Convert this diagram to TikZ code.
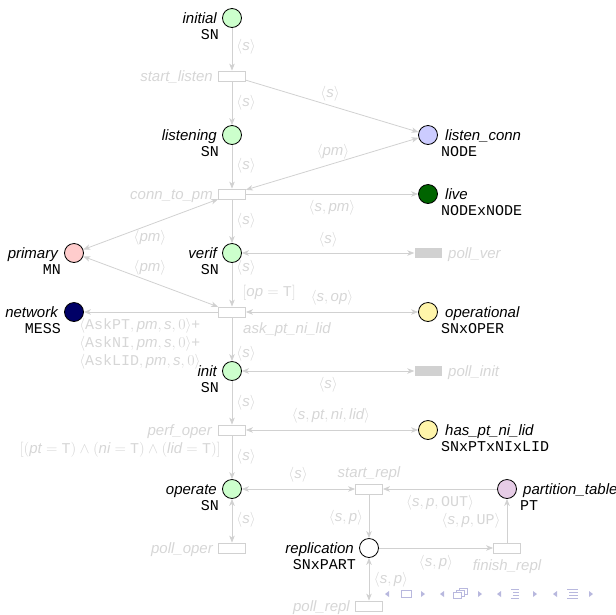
\documentclass[tikz,border=0pt]{standalone}
\usepackage{fix-cm}
\usepackage{fontspec}
\setmainfont{Liberation Sans}
\setmonofont{Liberation Mono}
\usetikzlibrary{arrows.meta}

\definecolor{arcgrey}{gray}{0.82}
\definecolor{labgrey}{gray}{0.84}
\definecolor{pgreen}{RGB}{204,255,204}
\definecolor{ppink}{RGB}{255,204,204}
\definecolor{pblue}{RGB}{204,204,255}
\definecolor{pdkgreen}{RGB}{0,100,0}
\definecolor{pnavy}{RGB}{0,0,102}
\definecolor{pyellow}{RGB}{255,245,170}
\definecolor{plilac}{RGB}{230,204,230}
\definecolor{navcol}{RGB}{184,184,222}

\newcommand{\vv}[1]{\textit{#1}}
\newcommand{\tup}[1]{$\langle #1\rangle$}

\begin{document}
\begin{tikzpicture}[x=1pt,y=-1pt,
  every node/.style={font=\fontsize{15}{18}\selectfont},
  place/.style={circle,draw=black,line width=0.8pt,minimum size=19pt,inner sep=0pt},
  trans/.style={rectangle,draw=arcgrey,fill=white,line width=0.8pt,minimum width=27pt,minimum height=10pt,inner sep=0pt},
  polltr/.style={rectangle,fill=arcgrey,minimum width=27pt,minimum height=10pt,inner sep=0pt},
  pname/.style={inner sep=0pt,font=\fontsize{15}{18}\selectfont\itshape},
  ptype/.style={inner sep=0pt,font=\fontsize{15}{18}\selectfont\ttfamily},
  tname/.style={inner sep=0pt,text=labgrey,font=\fontsize{15}{18}\selectfont\itshape},
  lab/.style={inner sep=0pt,text=labgrey,midway},
  arc/.style={draw=arcgrey,line width=0.8pt,-{Stealth[length=7pt,width=5.5pt,inset=2pt]}},
  biarc/.style={draw=arcgrey,line width=0.8pt,{Stealth[length=7pt,width=5.5pt,inset=2pt]}-{Stealth[length=7pt,width=5.5pt,inset=2pt]}},
  navtri/.style={fill=navcol,draw=none},
  navline/.style={draw=navcol,line width=0.7pt}
]
\useasboundingbox (0,0) rectangle (616,614);

% ---- places ----
\node[place,fill=pgreen] (initial) at (232,18) {};
\node[pname,anchor=base east] (initialN) at (217,23.5) {initial};
\node[ptype,anchor=base east] (initialT) at (219,39) {SN};

\node[place,fill=pgreen] (listening) at (232,135) {};
\node[pname,anchor=base east] (listeningN) at (217,140.5) {listening};
\node[ptype,anchor=base east] (listeningT) at (219,156) {SN};

\node[place,fill=pblue] (listenconn) at (428,135) {};
\node[pname,anchor=base west] (listenconnN) at (445,140.5) {listen\_conn};
\node[ptype,anchor=base west] (listenconnT) at (441,156) {NODE};

\node[place,fill=pdkgreen] (live) at (428,194) {};
\node[pname,anchor=base west] (liveN) at (445,199.5) {live};
\node[ptype,anchor=base west] (liveT) at (441,215) {NODExNODE};

\node[place,fill=pgreen] (verif) at (232,253) {};
\node[pname,anchor=base east] (verifN) at (217,258.5) {verif};
\node[ptype,anchor=base east] (verifT) at (219,274) {SN};

\node[place,fill=ppink] (primary) at (74,253) {};
\node[pname,anchor=base east] (primaryN) at (58,258.5) {primary};
\node[ptype,anchor=base east] (primaryT) at (61,274) {MN};

\node[place,fill=pnavy] (network) at (74,312) {};
\node[pname,anchor=base east] (networkN) at (58,317.5) {network};
\node[ptype,anchor=base east] (networkT) at (61,333) {MESS};

\node[place,fill=pyellow] (operational) at (428,312) {};
\node[pname,anchor=base west] (operationalN) at (445,317.5) {operational};
\node[ptype,anchor=base west] (operationalT) at (441,333) {SNxOPER};

\node[place,fill=pgreen] (init) at (232,371) {};
\node[pname,anchor=base east] (initN) at (217,376.5) {init};
\node[ptype,anchor=base east] (initT) at (219,392) {SN};

\node[place,fill=pyellow] (haspt) at (428,430) {};
\node[pname,anchor=base west] (hasptN) at (445,435.5) {has\_pt\_ni\_lid};
\node[ptype,anchor=base west] (hasptT) at (441,451) {SNxPTxNIxLID};

\node[place,fill=pgreen] (operate) at (232,489) {};
\node[pname,anchor=base east] (operateN) at (217,494.5) {operate};
\node[ptype,anchor=base east] (operateT) at (219,510) {SN};

\node[place,fill=plilac] (ptable) at (507,489) {};
\node[pname,anchor=base west] (ptableN) at (523,494.5) {partition\_table};
\node[ptype,anchor=base west] (ptableT) at (520,510) {PT};

\node[place,fill=white] (replication) at (369,548) {};
\node[pname,anchor=base east] (replicationN) at (354,553.5) {replication};
\node[ptype,anchor=base east] (replicationT) at (356,569) {SNxPART};

% ---- transitions ----
\node[trans] (startlisten) at (232,76) {};
\node[tname,anchor=base east] (startlistenN) at (213,81.5) {start\_listen};

\node[trans] (conntopm) at (232,194) {};
\node[tname,anchor=base east] (conntopmN) at (213,199.5) {conn\_to\_pm};

\node[polltr] (pollver) at (428,253) {};
\node[tname,anchor=base west] (pollverN) at (448,258.5) {poll\_ver};

\node[trans] (askpt) at (232,312) {};
\node[tname,anchor=base west] (askptN) at (243,333.5) {ask\_pt\_ni\_lid};

\node[polltr] (pollinit) at (428,371) {};
\node[tname,anchor=base west] (pollinitN) at (448,376.5) {poll\_init};

\node[trans] (perfoper) at (232,430) {};
\node[tname,anchor=base east] (perfoperN) at (212,435.5) {perf\_oper};
\node[inner sep=0pt,text=labgrey,anchor=east] (perfoperG) at (221,450)
  {$[(\vv{pt}=\texttt{T})\wedge(\vv{ni}=\texttt{T})\wedge(\vv{lid}=\texttt{T})]$};

\node[trans] (polloper) at (232,548) {};
\node[tname,anchor=base east] (polloperN) at (213,553.5) {poll\_oper};

\node[trans] (startrepl) at (369,489) {};
\node[tname,anchor=base] (startreplN) at (369,477.5) {start\_repl};

\node[trans] (finishrepl) at (507,548) {};
\node[tname,anchor=base] (finishreplN) at (507,570.5) {finish\_repl};

\node[trans] (pollrepl) at (369,606) {};
\node[tname,anchor=base east] (pollreplN) at (350,611.5) {poll\_repl};

% ---- arcs (labels shifted from the arc midpoint) ----
\draw[arc] (initial) -- node[lab,xshift=14pt,yshift=2.25pt] {\tup{\vv{s}}} (startlisten);
\draw[arc] (startlisten) -- node[lab,xshift=14pt,yshift=0.25pt] {\tup{\vv{s}}} (listening);
\draw[arc] (startlisten) -- node[lab,xshift=-2.2pt,yshift=12.1pt] {\tup{\vv{s}}} (listenconn);
\draw[arc] (listening) -- node[lab,xshift=14pt,yshift=0.75pt] {\tup{\vv{s}}} (conntopm);
\draw[biarc] (conntopm) -- node[lab,xshift=0.8pt,yshift=11.8pt] {\tup{\vv{pm}}} (listenconn);
\draw[arc] (conntopm) -- node[lab,yshift=-14pt] {\tup{\vv{s},\vv{pm}}} (live);
\draw[arc] (conntopm) -- node[lab,xshift=14pt,yshift=0.25pt] {\tup{\vv{s}}} (verif);
\draw[biarc] (conntopm) -- node[lab,xshift=-0.7pt,yshift=-13.6pt] {\tup{\vv{pm}}} (primary);
\draw[biarc] (verif) -- node[lab,yshift=13pt] {\tup{\vv{s}}} (pollver);
\draw[arc] (verif) -- node[lab,xshift=14pt,yshift=16.75pt] {\tup{\vv{s}}}
  node[lab,anchor=west,xshift=10pt,yshift=-8.25pt] {$[\vv{op}=\texttt{T}]$} (askpt);
\draw[biarc] (askpt) -- node[lab,xshift=-0.7pt,yshift=13.6pt] {\tup{\vv{pm}}} (primary);
\draw[arc] (askpt) -- node[lab,anchor=north west,align=left,xshift=-72pt,yshift=-6pt]
  {\tup{\texttt{AskPT},\vv{pm},\vv{s},0}+\\\tup{\texttt{AskNI},\vv{pm},\vv{s},0}+\\\tup{\texttt{AskLID},\vv{pm},\vv{s},0}} (network);
\draw[biarc] (askpt) -- node[lab,yshift=14pt] {\tup{\vv{s},\vv{op}}} (operational);
\draw[arc] (askpt) -- node[lab,xshift=14pt,yshift=-14.75pt] {\tup{\vv{s}}} (init);
\draw[biarc] (init) -- node[lab,yshift=-14pt] {\tup{\vv{s}}} (pollinit);
\draw[arc] (init) -- node[lab,xshift=14pt,yshift=-0.25pt] {\tup{\vv{s}}} (perfoper);
\draw[biarc] (perfoper) -- node[lab,xshift=-1pt,yshift=14pt] {\tup{\vv{s},\vv{pt},\vv{ni},\vv{lid}}} (haspt);
\draw[arc] (perfoper) -- node[lab,xshift=14pt,yshift=0.25pt] {\tup{\vv{s}}} (operate);
\draw[biarc] (operate) -- node[lab,xshift=14pt,yshift=0.75pt] {\tup{\vv{s}}} (polloper);
\draw[biarc] (operate) -- node[lab,xshift=-0.5pt,yshift=14pt] {\tup{\vv{s}}} (startrepl);
\draw[arc] (ptable) -- node[lab,yshift=-14pt] {\tup{\vv{s},\vv{p},\texttt{OUT}}} (startrepl);
\draw[arc] (startrepl) -- node[lab,xshift=-23pt,yshift=-1.75pt] {\tup{\vv{s},\vv{p}}} (replication);
\draw[arc] (replication) -- node[lab,yshift=-15pt] {\tup{\vv{s},\vv{p}}} (finishrepl);
\draw[arc] (finishrepl) -- node[lab,xshift=-36pt,yshift=-0.25pt] {\tup{\vv{s},\vv{p},\texttt{UP}}} (ptable);
\draw[biarc] (replication) -- node[lab,xshift=22pt,yshift=-0.75pt] {\tup{\vv{s},\vv{p}}} (pollrepl);

% ---- navigation symbols ----
\fill[navtri] (389,591) -- (385,594) -- (389,597) -- cycle;
\draw[navline] (401,590.5) rectangle (411,597.5);
\fill[navtri] (421,591) -- (425,594) -- (421,597) -- cycle;

\fill[navtri] (444,591) -- (440,594) -- (444,597) -- cycle;
\draw[navline,fill=white] (459,588) rectangle (467,594);
\draw[navline,fill=white] (456,590) rectangle (464,596);
\draw[navline,fill=white] (453,592) rectangle (461,598);
\fill[navtri] (478,591) -- (482,594) -- (478,597) -- cycle;

\fill[navtri] (501,591) -- (497,594) -- (501,597) -- cycle;
\draw[navline] (511,589) -- (519,589) (513,592) -- (519,592) (513,595) -- (519,595) (511,598) -- (519,598);
\fill[navtri] (533,591) -- (537,594) -- (533,597) -- cycle;

\fill[navtri] (557,591) -- (553,594) -- (557,597) -- cycle;
\draw[navline] (567,589) -- (578,589) (569,592) -- (578,592) (569,595) -- (578,595) (567,598) -- (578,598);
\fill[navtri] (589,591) -- (593,594) -- (589,597) -- cycle;
\end{tikzpicture}
\end{document}
